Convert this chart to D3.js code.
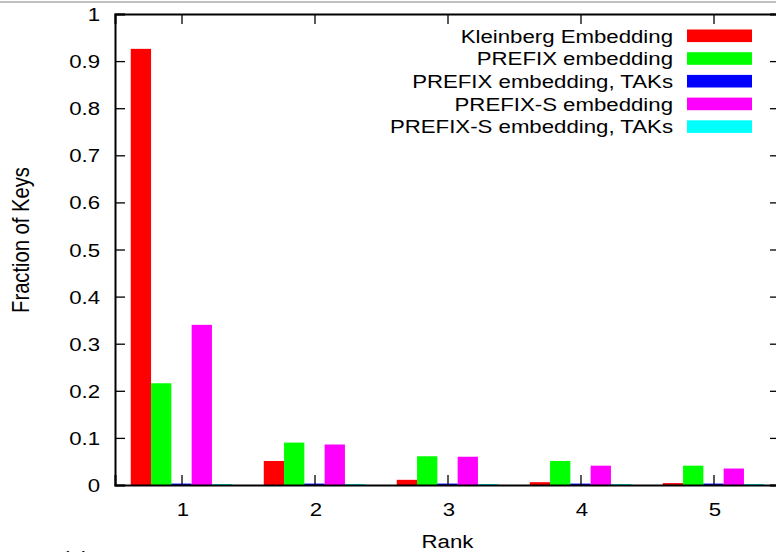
<!DOCTYPE html>
<html>
<head>
<meta charset="utf-8">
<script src="https://cdn.jsdelivr.net/npm/d3@7"></script>
<style>
	body { margin: 0; background: #fff; }
	svg { display: block; font-family: 'Liberation Sans', Arial, sans-serif; }
</style>
</head>
<body>
<div id="chart"></div>
<script>
// data
const ranks = [1, 2, 3, 4, 5];
const seriesNames = [
	'Kleinberg Embedding',
	'PREFIX embedding',
	'PREFIX embedding, TAKs',
	'PREFIX-S embedding',
	'PREFIX-S embedding, TAKs'
];
const kleinberg = [0.926, 0.051, 0.011, 0.006, 0.004];
const prefix = [0.216, 0.090, 0.061, 0.051, 0.041];
const prefixTaks = [0.003, 0.003, 0.003, 0.003, 0.003];
const prefixS = [0.340, 0.086, 0.060, 0.041, 0.035];
const prefixSTaks = [0.002, 0.002, 0.002, 0.002, 0.002];
const yTicks = [0, 0.1, 0.2, 0.3, 0.4, 0.5, 0.6, 0.7, 0.8, 0.9, 1];
const colors = ['#ff0000', '#00ff00', '#0000ff', '#ff00ff', '#00ffff'];

const series = [kleinberg, prefix, prefixTaks, prefixS, prefixSTaks];

// dimension stuff
const W = 776;
const H = 552;
const FONT_SIZE = 19;
const STRETCH = 1.17; // text in the picture is a bit wider than tall
const BAR_W = 0.1526; // in rank units

const scaleX = d3.scaleLinear().domain([0.5, 5.5]).range([115, 780]);
const scaleY = d3.scaleLinear().domain([0, 1]).range([485, 14]);

const $svg = d3.select('#chart').append('svg')
	.attr('width', W)
	.attr('height', H);

// thin grey rule at the very top
$svg.append('line')
	.attr('x1', 0).attr('x2', W)
	.attr('y1', 2).attr('y2', 2)
	.attr('stroke', '#c0c0c0')
	.attr('stroke-width', 2);

// bars
const $bars = $svg.append('g').attr('class', 'bars');
series.forEach((vals, s) => {
	$bars.selectAll(`rect.s${s}`)
		.data(ranks.map((r, i) => ({ r, v: vals[i] })))
		.join('rect')
		.attr('class', `s${s}`)
		.attr('x', d => scaleX(d.r - 2.5 * BAR_W + s * BAR_W))
		.attr('width', scaleX(BAR_W) - scaleX(0))
		.attr('y', d => scaleY(d.v))
		.attr('height', d => scaleY(0) - scaleY(d.v))
		.attr('fill', colors[s]);
});

function stretchText(sel, dx, dy) {
	sel.attr('x', null).attr('y', null).attr('dy', null)
		.attr('transform', `translate(${dx},${dy}) scale(${STRETCH},1)`)
		.attr('font-size', FONT_SIZE)
		.attr('font-family', null)
		.attr('fill', '#000');
}

// axes (gnuplot style, ticks point inward)
const axisLeft = d3.axisLeft(scaleY).tickValues(yTicks).tickSize(-10).tickFormat(d3.format('~g'));
const $yAxis = $svg.append('g')
	.attr('transform', `translate(${scaleX(0.5)},0)`)
	.call(axisLeft);
$yAxis.selectAll('text').call(stretchText, -15, 6.5);

const axisRight = d3.axisRight(scaleY).tickValues(yTicks).tickSize(-10).tickFormat('');
$svg.append('g')
	.attr('transform', `translate(${scaleX(5.5)},0)`)
	.call(axisRight);

const axisBottom = d3.axisBottom(scaleX).tickValues(ranks).tickSize(-10).tickFormat(d3.format('d'));
const $xAxis = $svg.append('g')
	.attr('transform', `translate(0,${scaleY(0)})`)
	.call(axisBottom);
$xAxis.selectAll('text').attr('text-anchor', 'middle').call(stretchText, 1, 30.5);

const axisTop = d3.axisTop(scaleX).tickValues(ranks).tickSize(-10).tickFormat('');
$svg.append('g')
	.attr('transform', `translate(0,${scaleY(1)})`)
	.call(axisTop);

$svg.selectAll('.domain').attr('stroke', '#000').attr('stroke-width', 2);
$svg.selectAll('.tick line').attr('stroke', '#000').attr('stroke-width', 1.3);

// axis titles
$svg.append('text')
	.attr('text-anchor', 'middle')
	.attr('transform', `translate(${scaleX(3)},547.5) scale(${STRETCH},1)`)
	.attr('font-size', FONT_SIZE)
	.text('Rank');

$svg.append('text')
	.attr('text-anchor', 'middle')
	.attr('transform', `translate(29,240) rotate(-90) scale(1,${STRETCH})`)
	.attr('font-size', 20.2)
	.text('Fraction of Keys');

// caption of the figure, cut off by the bottom edge in the picture
$svg.append('text')
	.attr('transform', `translate(62,564) scale(${STRETCH},1)`)
	.attr('font-size', FONT_SIZE)
	.text('(a)');

// legend
const $legend = $svg.append('g').attr('class', 'legend');
const $item = $legend.selectAll('g')
	.data(seriesNames)
	.join('g')
	.attr('transform', (d, i) => `translate(0,${35.8 + i * 22.7})`);

$item.append('text')
	.attr('text-anchor', 'end')
	.attr('transform', `translate(673,6.8) scale(${STRETCH},1)`)
	.attr('font-size', FONT_SIZE)
	.text(d => d);

$item.append('rect')
	.attr('x', 687)
	.attr('y', -6.3)
	.attr('width', 65)
	.attr('height', 12.6)
	.attr('fill', (d, i) => colors[i]);
</script>
</body>
</html>
